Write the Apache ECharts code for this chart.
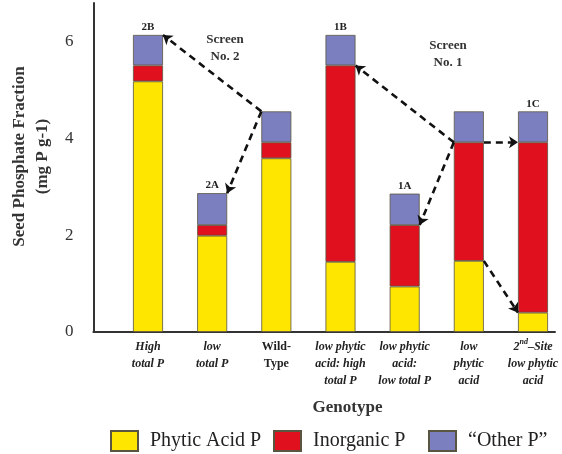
<!DOCTYPE html>
<html><head><meta charset="utf-8">
<script src="https://cdn.jsdelivr.net/npm/echarts@6/dist/echarts.min.js"></script>
<style>html,body{margin:0;padding:0;background:#fff}#c{width:562px;height:454px}</style>
</head><body><div id="c"></div>
<script>
const categories = ['High total P', 'low total P', 'Wild-Type', 'low phytic acid: high total P', 'low phytic acid: low total P', 'low phytic acid', '2nd–Site low phytic acid'];
const phyticAcidP = [5.18, 1.99, 3.59, 1.45, 0.94, 1.47, 0.40];
const inorganicP  = [0.33, 0.22, 0.33, 4.06, 1.27, 2.45, 3.52];
const otherP      = [0.63, 0.66, 0.64, 0.63, 0.65, 0.64, 0.64];
const barTags     = ['2B', '2A', '', '1B', '1A', '', '1C'];
const yTicks = [0, 2, 4, 6];
// arrows: [fromIndex, fromSide, fromLevel, toIndex, toSide, toLevel]
const arrows = [
  [2, -1, 'total', 0, 1, 'total'],
  [2, -1, 'total', 1, 1, 'total'],
  [5, -1, 'inorg', 3, 1, 'inorg'],
  [5, -1, 'inorg', 4, 1, 'inorg'],
  [5, 1, 'inorg', 6, -1, 'inorg'],
  [5, 1, 'phytic', 6, -1, 'phytic']
];
const screenNotes = [['Screen', 'No. 2'], ['Screen', 'No. 1']];

const W = 562, H = 454;
const gridL = 148, gridR = 29, gridTop = 3, gridBottom = 122;
const barWidth = 30;
const hw = (barWidth / 2) / ((W - gridL - gridR) / (categories.length - 1));
function level(i, l) {
  if (l === 'phytic') return phyticAcidP[i];
  if (l === 'inorg') return phyticAcidP[i] + inorganicP[i];
  return phyticAcidP[i] + inorganicP[i] + otherP[i];
}
const arrowData = arrows.map(a => ({coords: [[a[0] + a[1] * hw, level(a[0], a[2])], [a[3] + a[4] * hw, level(a[3], a[5])]]}));

const serif = "'Liberation Serif', 'Times New Roman', serif";
const xLabelRich = {
  i: {fontFamily: serif, fontStyle: 'italic', fontWeight: 'bold', fontSize: 12, lineHeight: 17, color: '#222'},
  n: {fontFamily: serif, fontWeight: 'bold', fontSize: 12, lineHeight: 17, color: '#222'},
  sup: {fontFamily: serif, fontStyle: 'italic', fontWeight: 'bold', fontSize: 8, lineHeight: 17, color: '#222', verticalAlign: 'top', padding: [0, 0, 5, 0]}
};
const xLabelFmt = {
  'High total P': '{i|High}\n{i|total P}',
  'low total P': '{i|low}\n{i|total P}',
  'Wild-Type': '{n|Wild-}\n{n|Type}',
  'low phytic acid: high total P': '{i|low phytic}\n{i|acid: high}\n{i|total P}',
  'low phytic acid: low total P': '{i|low phytic}\n{i|acid:}\n{i|low total P}',
  'low phytic acid': '{i|low}\n{i|phytic}\n{i|acid}',
  '2nd–Site low phytic acid': '{i|2}{sup|nd}{i|–Site}\n{i|low phytic}\n{i|acid}'
};

const colors = {phytic: '#FFE600', inorg: '#E0101E', other: '#7B7FC0'};
const border = {borderColor: '#5a5540', borderWidth: 0.8};

const chart = echarts.init(document.getElementById('c'), null, {renderer: 'canvas'});
chart.setOption({
  animation: false,
  backgroundColor: '#fff',
  grid: [
    {left: gridL, right: gridR, top: gridTop, bottom: gridBottom},
    {left: 92, right: 7, top: gridTop, bottom: gridBottom}
  ],
  xAxis: [
    {type: 'category', gridIndex: 0, data: categories, boundaryGap: false,
      axisLine: {show: false}, axisTick: {show: false}, splitLine: {show: false},
      axisLabel: {interval: 0, margin: 6, formatter: v => xLabelFmt[v], rich: xLabelRich},
      name: 'Genotype', nameLocation: 'middle', nameGap: 67,
      nameTextStyle: {fontFamily: serif, fontWeight: 'bold', fontSize: 17, color: '#333', padding: [0, 0, 0, 14]}},
    {type: 'value', gridIndex: 1, min: 0, max: 1, show: true,
      axisLine: {show: true, lineStyle: {color: '#333', width: 2}}, axisTick: {show: false},
      axisLabel: {show: false}, splitLine: {show: false}},
    {type: 'value', gridIndex: 0, min: 0, max: categories.length - 1, show: false}
  ],
  yAxis: [
    {type: 'value', gridIndex: 0, min: 0, max: 6.8, show: false},
    {type: 'value', gridIndex: 1, min: 0, max: 6.8, interval: 2,
      axisLine: {show: true, lineStyle: {color: '#333', width: 2}}, axisTick: {show: false},
      splitLine: {show: false},
      axisLabel: {margin: 20, fontFamily: serif, fontSize: 17, color: '#333',
        formatter: v => (yTicks.indexOf(v) >= 0 ? String(v) : '')},
      name: 'Seed Phosphate Fraction\n(mg P g-1)', nameLocation: 'middle', nameGap: 37,
      nameTextStyle: {fontFamily: serif, fontWeight: 'bold', fontSize: 17, lineHeight: 23, color: '#333', padding: [0, 0, 0, 22]}}
  ],
  legend: [
    {data: ['Phytic Acid P'], left: 110, top: 430},
    {data: ['Inorganic P'], left: 273, top: 430},
    {data: ['“Other P”'], left: 428, top: 430}
  ].map(l => Object.assign(l, {icon: 'rect', itemWidth: 27, itemHeight: 20, padding: 0,
      textStyle: {fontFamily: serif, fontSize: 20, color: '#222', padding: [0, 0, 0, 7]}})),
  series: [
    {name: 'Phytic Acid P', type: 'bar', stack: 'p', xAxisIndex: 0, yAxisIndex: 0, barWidth: barWidth,
      data: phyticAcidP, itemStyle: Object.assign({color: colors.phytic}, border)},
    {name: 'Inorganic P', type: 'bar', stack: 'p', xAxisIndex: 0, yAxisIndex: 0, barWidth: barWidth,
      data: inorganicP, itemStyle: Object.assign({color: colors.inorg}, border)},
    {name: '“Other P”', type: 'bar', stack: 'p', xAxisIndex: 0, yAxisIndex: 0, barWidth: barWidth,
      data: otherP, itemStyle: Object.assign({color: colors.other}, border),
      label: {show: true, position: 'top', distance: 2, formatter: p => barTags[p.dataIndex],
        fontFamily: serif, fontWeight: 'bold', fontSize: 11, color: '#222'}},
    {type: 'lines', coordinateSystem: 'cartesian2d', xAxisIndex: 2, yAxisIndex: 0, z: 5,
      symbol: ['none', 'arrow'], symbolSize: 9,
      lineStyle: {color: '#111', width: 2.6, type: [7, 5], opacity: 1, curveness: 0},
      data: arrowData}
  ],
  graphic: [
    {type: 'text', x: 225, y: 31, style: {text: screenNotes[0].join('\n'), font: "bold 13px 'Liberation Serif', serif", lineHeight: 17, align: 'center', fill: '#333'}},
    {type: 'text', x: 448, y: 37, style: {text: screenNotes[1].join('\n'), font: "bold 13px 'Liberation Serif', serif", lineHeight: 17, align: 'center', fill: '#333'}}
  ]
});
</script></body></html>
